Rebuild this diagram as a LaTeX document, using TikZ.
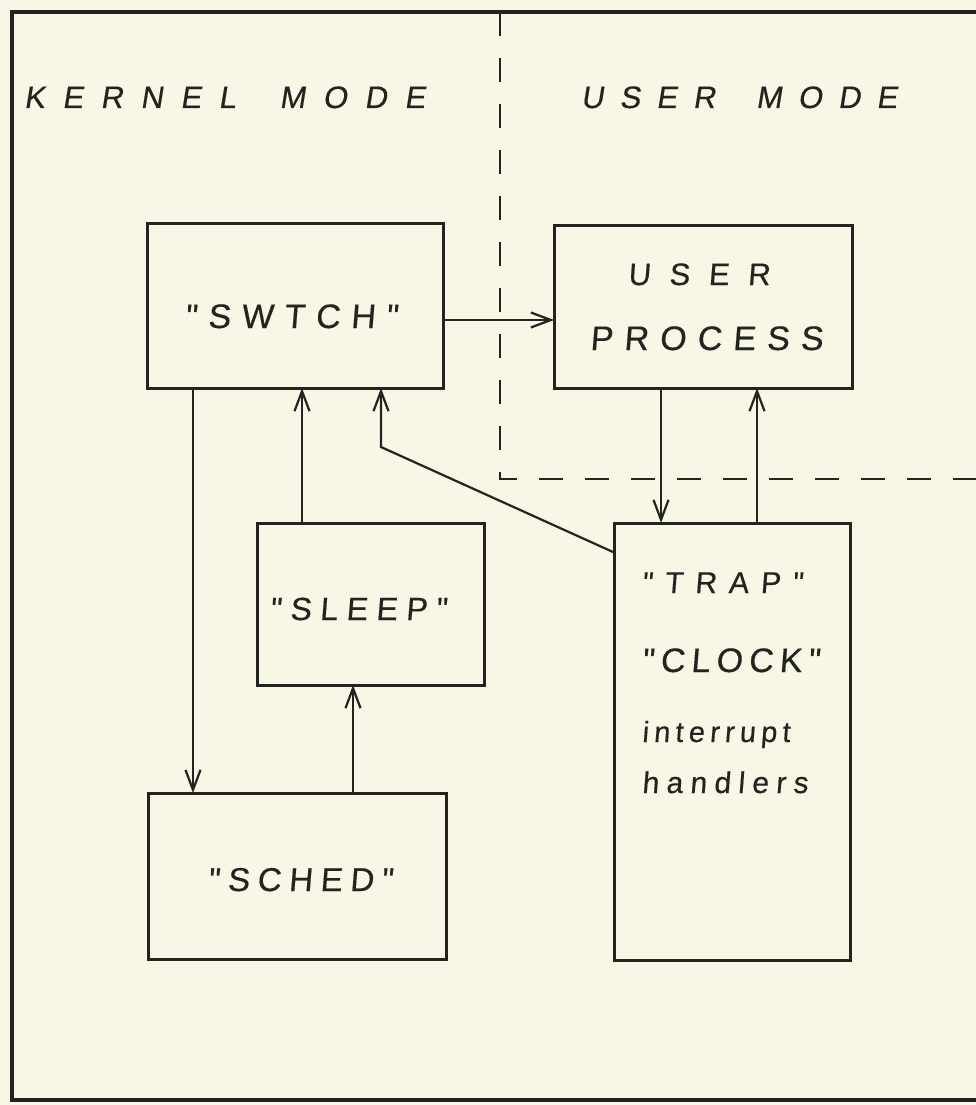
\documentclass[tikz,border=0pt]{standalone}
\usepackage{fontspec}
\usetikzlibrary{arrows.meta,calc}
\definecolor{paper}{RGB}{248,246,228}
\definecolor{ink}{RGB}{35,35,32}
\newfontfamily\lettering{Liberation Sans}[FakeSlant=0.08,FakeBold=0.4]
\newfontfamily\headfont{Liberation Sans}[FakeSlant=0.16,FakeBold=0.4]
% spread the letters of #2 evenly over a width of #1
\makeatletter
\def\spreadtext#1#2{\makebox[#1][s]{\spr@first#2\relax}}
\def\spr@first#1{#1\spr@rest}
\def\spr@rest#1{\ifx#1\relax\else\hfill#1\expandafter\spr@rest\fi}
\makeatother
\tikzset{
  box/.style={draw=ink, line width=3pt, inner sep=0pt, outer sep=0pt, anchor=north west},
  lbl/.style={inner sep=0pt, outer sep=0pt, anchor=base west, text=ink},
  link/.style={draw=ink, line width=2.2pt,
    -{Straight Barb[length=20pt,width=15pt,line width=2.2pt]}},
  zone/.style={draw=ink, line width=2.8pt, dash pattern=on 24pt off 22pt},
}
\begin{document}
\begin{tikzpicture}[x=1pt,y=-1pt]
  \fill[paper] (0,0) rectangle (976,1105);
  \useasboundingbox (0,0) rectangle (976,1105);
  % outer frame, open on the right
  \draw[ink, line width=3.4pt] (976,12) -- (12,12) -- (12,1100) -- (976,1100);
  % boundary between kernel and user mode
  \draw[zone] (500,12) -- (500,479) -- (976,479);

  % headings
  \node[lbl] (tkernel) at (24,108)
    {\headfont\fontsize{31}{31}\selectfont\spreadtext{401pt}{KERNEL~MODE}};
  \node[lbl] (tusermode) at (581,108)
    {\headfont\fontsize{31}{31}\selectfont\spreadtext{316pt}{USER~MODE}};

  % boxes
  \node[box, minimum width=296pt, minimum height=165pt] (swtch) at (147,223) {};
  \node[box, minimum width=298pt, minimum height=163pt] (user)  at (554,225) {};
  \node[box, minimum width=227pt, minimum height=162pt] (sleep) at (257,523) {};
  \node[box, minimum width=298pt, minimum height=166pt] (sched) at (148,793) {};
  \node[box, minimum width=236pt, minimum height=437pt] (trap)  at (614,523) {};

  % box labels
  \node[lbl] (tswtch) at (185,328)
    {\lettering\fontsize{34}{34}\selectfont\spreadtext{213pt}{"SWTCH"}};
  \node[lbl] (tuser) at (628,285)
    {\lettering\fontsize{31}{31}\selectfont\spreadtext{142pt}{USER}};
  \node[lbl] (tprocess) at (590,350)
    {\lettering\fontsize{34}{34}\selectfont\spreadtext{233pt}{PROCESS}};
  \node[lbl] (tsleep) at (270,620)
    {\lettering\fontsize{32}{32}\selectfont\spreadtext{177pt}{"SLEEP"}};
  \node[lbl] (tsched) at (208,891)
    {\lettering\fontsize{33}{33}\selectfont\spreadtext{185pt}{"SCHED"}};
  \node[lbl] (ttrap) at (642,593)
    {\lettering\fontsize{30}{30}\selectfont\spreadtext{161pt}{"TRAP"}};
  \node[lbl] (tclock) at (642,672)
    {\lettering\fontsize{34}{34}\selectfont\spreadtext{178pt}{"CLOCK"}};
  \node[lbl] (tinterrupt) at (642,742)
    {\lettering\fontsize{29}{29}\selectfont\spreadtext{148pt}{interrupt}};
  \node[lbl] (thandlers) at (642,793)
    {\lettering\fontsize{30}{30}\selectfont\spreadtext{166pt}{handlers}};

  % control transfers
  \draw[link] ($(swtch.north east)+(0,97)$) -- ($(user.north west)+(0,95)$);
  \draw[link] ($(swtch.south west)+(46,0)$) -- ($(sched.north west)+(45,0)$);
  \draw[link] ($(sleep.north west)+(45,0)$) -- ($(swtch.south west)+(155,0)$);
  \draw[link] ($(sched.north west)+(205,0)$) -- ($(sleep.south west)+(96,0)$);
  \draw[link] ($(trap.north west)+(-1,29)$) -- ($(swtch.south west)+(234,59)$)
              -- ($(swtch.south west)+(234,0)$);
  \draw[link] ($(user.south west)+(107,0)$) -- ($(trap.north west)+(47,0)$);
  \draw[link] ($(trap.north west)+(143,0)$) -- ($(user.south west)+(203,0)$);
\end{tikzpicture}
\end{document}
